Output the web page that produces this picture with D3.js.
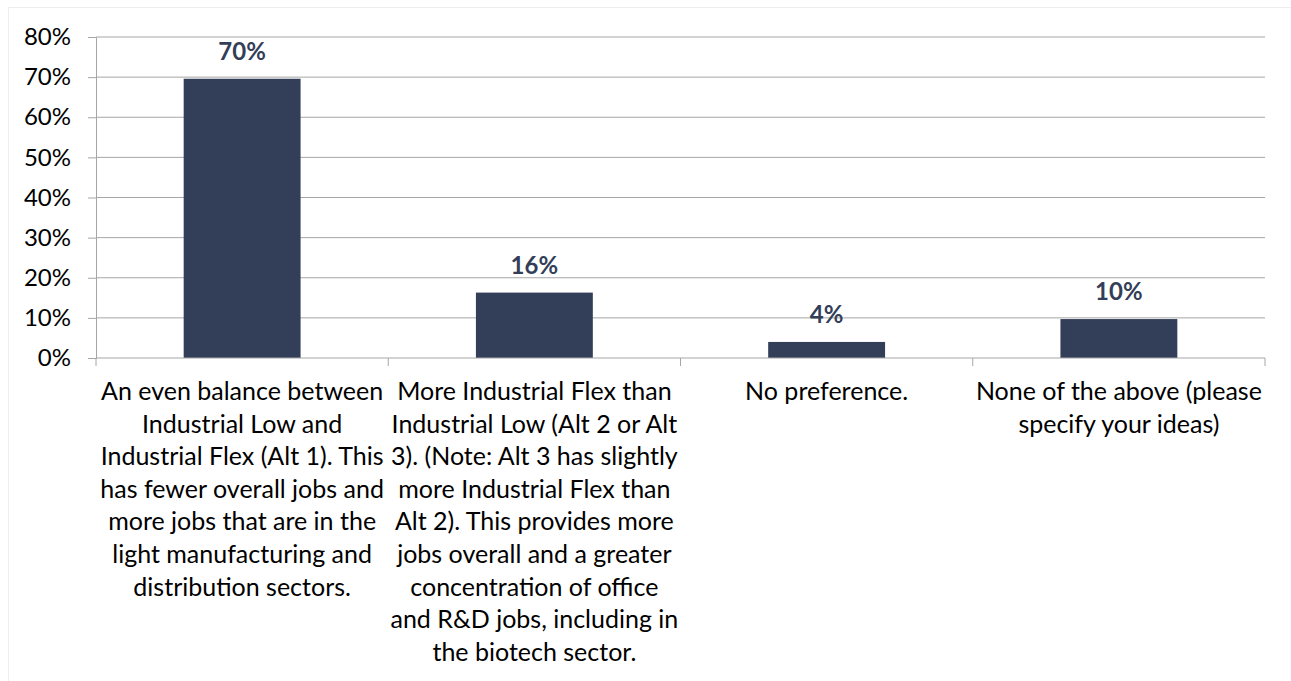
<!DOCTYPE html>
<html lang="en">

<head>
    <meta charset="UTF-8">
    <title>Industrial Low vs Industrial Flex</title>
    <style>
        body {
            padding: 0;
            margin: 0;
            background: #fff;
        }
        text {
            font-family: Lato, "Open Sans", sans-serif;
        }
    </style>
</head>

<body>
    <script src="https://d3js.org/d3.v7.min.js"></script>
    <script>
        // data
        const categories = ['alt1', 'alt2', 'none', 'other'];
        const values = [0.696, 0.163, 0.040, 0.097];
        const labelLines = [
            ['An even balance between', 'Industrial Low and', 'Industrial Flex (Alt 1). This',
                'has fewer overall jobs and', 'more jobs that are in the', 'light manufacturing and',
                'distribution sectors.'],
            ['More Industrial Flex than', 'Industrial Low (Alt 2 or Alt', '3). (Note: Alt 3 has slightly',
                'more Industrial Flex than', 'Alt 2). This provides more', 'jobs overall and a greater',
                'concentration of office', 'and R&D jobs, including in', 'the biotech sector.'],
            ['No preference.'],
            ['None of the above (please', 'specify your ideas)']
        ];
        const yTicks = [0, 0.1, 0.2, 0.3, 0.4, 0.5, 0.6, 0.7, 0.8];

        const width = 1291;
        const height = 681;
        const margin = { top: 37, right: 26, bottom: 323, left: 96 };
        const barColor = '#333f59';
        const gridColor = '#a6a6a6';
        const fontSize = 24;

        const svg = d3.select('body')
            .append('svg')
            .attr('width', width)
            .attr('height', height);

        // faint outer frame
        svg.append('rect')
            .attr('x', 8.5)
            .attr('y', 7.5)
            .attr('width', width)
            .attr('height', height)
            .attr('fill', 'none')
            .attr('stroke', '#eeeeee');

        const x = d3.scaleBand()
            .domain(categories)
            .range([margin.left, width - margin.right])
            .paddingInner(0.6)
            .paddingOuter(0.3);

        const y = d3.scaleLinear()
            .domain([0, 0.8])
            .range([height - margin.bottom, margin.top]);

        // y axis with gridlines
        const yAxis = svg.append('g')
            .attr('transform', `translate(${margin.left},0)`)
            .call(d3.axisLeft(y)
                .tickValues(yTicks)
                .tickFormat(d3.format('.0%'))
                .tickSize(8)
                .tickPadding(17));
        yAxis.select('.domain').attr('stroke', gridColor);
        yAxis.selectAll('.tick line').attr('stroke', gridColor);
        yAxis.selectAll('.tick text')
            .attr('fill', '#000')
            .attr('font-size', fontSize)
            .attr('font-family', 'Lato, sans-serif');

        svg.append('g')
            .selectAll('line')
            .data(yTicks.filter(d => d > 0))
            .join('line')
            .attr('x1', margin.left)
            .attr('x2', width - margin.right)
            .attr('y1', d => y(d))
            .attr('y2', d => y(d))
            .attr('stroke', gridColor);

        // bars
        svg.append('g')
            .selectAll('rect')
            .data(values)
            .join('rect')
            .attr('x', (d, i) => x(categories[i]))
            .attr('y', d => y(d))
            .attr('width', x.bandwidth())
            .attr('height', d => y(0) - y(d))
            .attr('fill', barColor);

        // x axis (on top of bars)
        const step = x.step();
        const xAxis = svg.append('g')
            .attr('transform', `translate(0,${y(0)})`);
        xAxis.append('line')
            .attr('x1', margin.left)
            .attr('x2', width - margin.right)
            .attr('stroke', gridColor);
        xAxis.selectAll('.xtick')
            .data(d3.range(categories.length + 1))
            .join('line')
            .attr('class', 'xtick')
            .attr('x1', i => margin.left + i * step)
            .attr('x2', i => margin.left + i * step)
            .attr('y1', 0)
            .attr('y2', 8)
            .attr('stroke', gridColor);

        // category labels
        svg.append('g')
            .selectAll('text')
            .data(labelLines)
            .join('text')
            .attr('x', (d, i) => x(categories[i]) + x.bandwidth() / 2)
            .attr('y', y(0) + 42)
            .attr('text-anchor', 'middle')
            .attr('font-size', 25)
            .attr('fill', '#000')
            .selectAll('tspan')
            .data(d => d)
            .join('tspan')
            .attr('x', function () { return this.parentNode.getAttribute('x'); })
            .attr('dy', (d, i) => i === 0 ? 0 : 32.6)
            .text(d => d);

        // value labels
        svg.append('g')
            .selectAll('text')
            .data(values)
            .join('text')
            .attr('x', (d, i) => x(categories[i]) + x.bandwidth() / 2)
            .attr('y', d => y(d) - 19)
            .attr('text-anchor', 'middle')
            .attr('font-size', fontSize)
            .attr('font-weight', 'bold')
            .attr('fill', barColor)
            .text(d => d3.format('.0%')(d));
    </script>

</body>

</html>
